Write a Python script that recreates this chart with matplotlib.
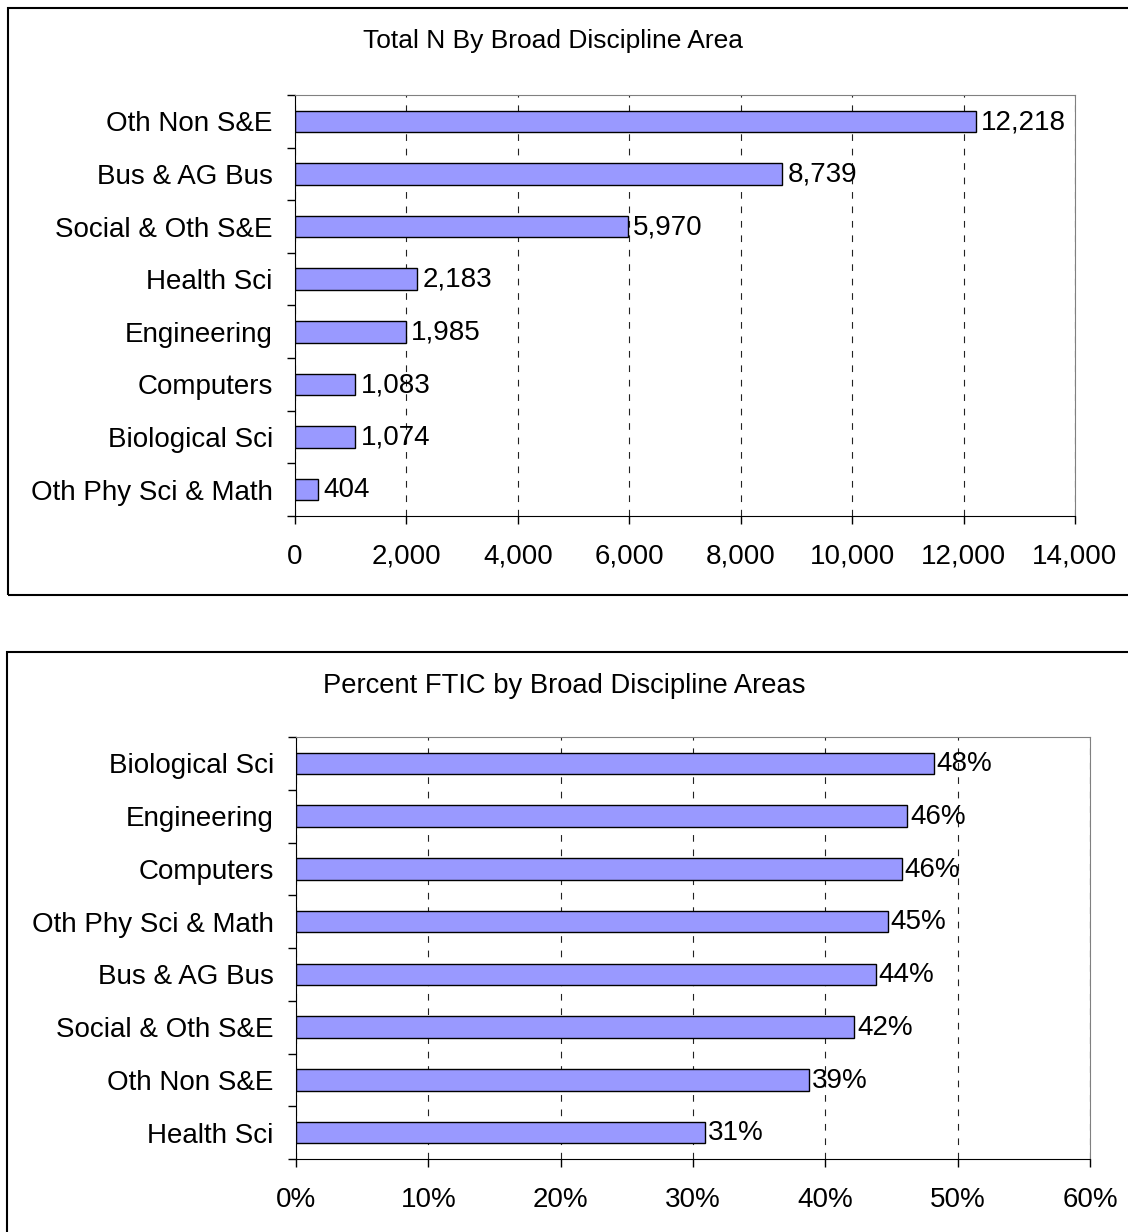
import matplotlib
matplotlib.use("Agg")
import matplotlib.pyplot as plt
import matplotlib.ticker as mticker
from matplotlib.patches import Rectangle
import numpy as np

plt.rcParams['font.family'] = ['Liberation Sans', 'DejaVu Sans']

# Данные: верхняя панель
n_cats = ["Oth Non S&E", "Bus & AG Bus", "Social & Oth S&E", "Health Sci",
          "Engineering", "Computers", "Biological Sci", "Oth Phy Sci & Math"]
n_vals = [12218, 8739, 5970, 2183, 1985, 1083, 1074, 404]
n_ticks = np.arange(0, 14001, 2000)

# Данные: нижняя панель
p_cats = ["Biological Sci", "Engineering", "Computers", "Oth Phy Sci & Math",
          "Bus & AG Bus", "Social & Oth S&E", "Oth Non S&E", "Health Sci"]
p_vals = [0.482, 0.462, 0.458, 0.447, 0.438, 0.422, 0.388, 0.309]
p_ticks = np.arange(0, 0.61, 0.1)

BAR = '#9999FF'
FS = 20
W, H = 1128, 1232

fig = plt.figure(figsize=(W / 100, H / 100), dpi=100)


def panel(rect, cats, vals, ticks, fmt, lab_fmt, title, title_xy, title_fs, lab_off):
    ax = fig.add_axes(rect)
    y = np.arange(len(cats))
    ax.barh(y, vals, height=0.41, color=BAR, edgecolor='black', linewidth=1, zorder=2)
    ax.set_ylim(len(cats) - 0.5, -0.5)
    ax.set_xlim(ticks[0], ticks[-1])
    ax.set_xticks(ticks)
    ax.xaxis.set_major_formatter(mticker.FuncFormatter(fmt))
    ax.set_yticks(y)
    ax.set_yticklabels(cats)
    ax.set_yticks(np.arange(len(cats) + 1) - 0.5, minor=True)
    ax.tick_params(axis='y', which='major', length=0, pad=16, labelsize=FS)
    ax.tick_params(axis='y', which='minor', length=6, direction='out', width=1)
    ax.tick_params(axis='x', length=6, direction='out', width=1, pad=14, labelsize=FS)
    ax.set_axisbelow(True)
    ax.grid(axis='x', color='#222222', linestyle=(0, (6, 7)), linewidth=0.8)
    for s in ['top', 'right']:
        ax.spines[s].set_color('#808080')
    for s in ['left', 'bottom']:
        ax.spines[s].set_color('black')
    for yi, v in zip(y, vals):
        ax.annotate(lab_fmt(v), (v, yi), xytext=(lab_off, -0.5), textcoords='offset points',
                    va='center', ha='left', fontsize=FS)
    fig.text(title_xy[0] / W, 1 - title_xy[1] / H, title, ha='center', va='center',
             fontsize=title_fs)
    return ax


panel([295 / W, 1 - 516 / H, 780 / W, 421 / H], n_cats, n_vals, n_ticks,
      lambda v, p: f"{int(v):,}", lambda v: f"{v:,}",
      "Total N By Broad Discipline Area", (553, 41), 19, 4)
panel([296 / W, 1 - 1159 / H, 794 / W, 422 / H], p_cats, p_vals, p_ticks,
      lambda v, p: f"{v * 100:.0f}%", lambda v: f"{v * 100:.0f}%",
      "Percent FTIC by Broad Discipline Areas", (564, 686), 19.7, 2)

# Рамки панелей
fig.patches.append(Rectangle((8 / W, 1 - 595 / H), 1.2, 587 / H, transform=fig.transFigure,
                             fill=False, edgecolor='black', linewidth=1.5))
fig.patches.append(Rectangle((7 / W, -0.2), 1.2, 0.2 + 1 - 652 / H, transform=fig.transFigure,
                             fill=False, edgecolor='black', linewidth=1.5))

fig.savefig("out.png", dpi=100)
